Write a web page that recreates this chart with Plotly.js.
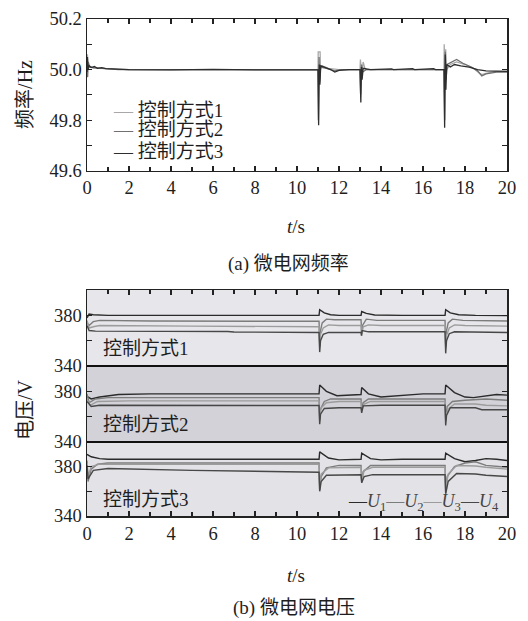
<!DOCTYPE html>
<html>
<head>
<meta charset="utf-8">
<script src="https://cdn.plot.ly/plotly-3.0.1.min.js"></script>
<style>html,body{margin:0;padding:0;background:#fff;}#chart{width:528px;height:621px;}</style>
</head>
<body>
<div id="chart"></div>
<script>
// ---------- Data ----------
const modeNames = ['控制方式1', '控制方式2', '控制方式3'];
const uNames = ['U1', 'U2', 'U3', 'U4'];
const xTickVals = [0, 2, 4, 6, 8, 10, 12, 14, 16, 18, 20];
const vTickVals = [340, 380];
const vMinorVals = [360, 400];

// Frequency (Hz) vs t (s), [t, f] pairs
const freq1 = [[0,50.0],[0.02,50.06],[0.06,50.01],[0.15,50.012],[0.3,50.006],[0.6,50.005],[1,50.003],[2,50.0],[5,50.0],[8,50.0],[10,50.0],[11.0,50.0],[11.01,50.07],[11.1,50.07],[11.12,50.0],[11.2,50.015],[11.5,50.005],[12,50.0],[13.0,50.0],[13.02,50.04],[13.08,49.98],[13.15,50.03],[13.25,50.0],[14,50.0],[17.0,50.0],[17.01,50.1],[17.04,50.0],[17.08,50.08],[17.12,50.0],[17.3,50.02],[17.6,50.03],[18.0,50.02],[18.4,50.005],[18.7,49.985],[18.8,49.98],[19.0,49.985],[19.4,49.992],[20,49.993]];
const freq2 = [[0,50.0],[0.03,49.97],[0.06,50.03],[0.12,50.01],[0.3,50.008],[0.8,50.004],[1.5,50.0],[10,50.0],[11.0,50.0],[11.02,49.8],[11.05,50.05],[11.08,49.95],[11.12,50.01],[11.4,50.005],[11.8,49.995],[12.1,50.0],[13.0,50.0],[13.03,49.9],[13.07,50.02],[13.12,49.99],[13.3,50.0],[17.0,50.0],[17.03,49.8],[17.06,50.07],[17.1,49.96],[17.15,50.02],[17.4,50.03],[17.6,50.04],[17.9,50.025],[18.3,50.01],[18.6,49.995],[18.8,49.975],[19.0,49.983],[19.5,49.99],[20,49.99]];
const freq3 = [[0,49.99],[0.02,50.05],[0.05,50.0],[0.1,50.015],[0.2,50.008],[0.35,50.012],[0.5,50.005],[0.7,50.008],[0.9,50.004],[1.2,50.003],[2,50.0],[4,49.999],[6,50.001],[8,49.999],[10,50.0],[11.0,50.0],[11.03,49.78],[11.06,50.02],[11.09,49.94],[11.13,50.015],[11.3,50.01],[11.6,50.0],[11.8,49.99],[12.0,49.997],[12.5,50.0],[13.0,50.0],[13.04,49.87],[13.07,50.01],[13.1,49.96],[13.15,50.005],[13.5,50.0],[14.5,50.003],[14.6,50.0],[15.5,50.004],[15.6,50.0],[16.5,50.004],[16.6,50.0],[17.0,50.0],[17.03,49.77],[17.06,50.06],[17.09,49.92],[17.13,50.02],[17.3,50.01],[17.5,50.02],[17.8,50.015],[18.2,50.01],[18.6,50.0],[19.0,49.995],[19.5,49.994],[20,49.993]];

// Voltage (V) vs t (s), control mode 1
const m1U1 = [[0,378],[0.1,381],[0.3,380.5],[1,380],[5,380],[10,380],[11.05,380],[11.08,384.5],[11.3,382],[11.6,380.5],[12,380],[13.05,380],[13.08,383],[13.3,381.5],[13.7,380.3],[15,380],[17.05,380],[17.08,384.5],[17.3,382],[17.7,380.5],[18.5,380],[20,379.8]];
const m1U2 = [[0,374],[0.1,372],[0.3,375],[0.6,376],[3,375.5],[10,375.3],[11.05,375.3],[11.08,358],[11.12,368],[11.2,374],[11.4,377],[11.8,376.5],[13.05,376.5],[13.08,366],[13.12,372],[13.3,377],[13.8,376],[17.05,376],[17.08,357],[17.12,368],[17.2,374],[17.4,377],[17.9,376],[20,375.5]];
const m1U3 = [[0,376],[0.1,370],[0.3,371],[0.6,372],[5,371.5],[10,371],[11.05,371],[11.08,355],[11.12,365],[11.25,370],[11.5,372.5],[12,372],[13.05,372],[13.08,364],[13.15,371],[13.4,372.5],[14,372],[17.05,372],[17.08,355],[17.12,364],[17.25,370],[17.5,372.5],[18,372],[20,371.5]];
const m1U4 = [[0,372],[0.1,368],[0.4,367.5],[3,367.5],[6.7,367.3],[7,366.8],[11.05,366.5],[11.08,351],[11.12,360],[11.25,365],[11.5,366.5],[13.05,366.5],[13.07,364],[13.1,368],[13.4,367],[17.05,367],[17.08,350],[17.12,360],[17.25,365.5],[17.5,367],[20,366.5]];
// control mode 2
const m2U1 = [[0,376],[0.2,374],[0.6,375.5],[1.5,377.5],[3,378],[10,378],[11.05,378],[11.08,385],[11.4,380],[11.9,376.5],[12.5,376.8],[13.05,377.5],[13.08,383],[13.4,378],[14,375.5],[15,377],[16,378],[17.05,378],[17.08,385],[17.5,379],[18,375.5],[18.4,375],[19,376.5],[19.5,377.5],[20,377]];
const m2U2 = [[0,378],[0.1,371],[0.4,374],[1,375],[10,375],[11.05,375],[11.08,357],[11.12,366],[11.3,372],[11.6,374],[13.05,374],[13.08,366],[13.15,371],[13.4,374],[17.05,374],[17.08,357],[17.15,368],[17.4,372],[18,373],[19,374],[20,373]];
const m2U3 = [[0,374],[0.15,369],[0.5,372],[2,372.5],[10,372.5],[11.05,372.5],[11.08,360],[11.15,367],[11.4,371],[12,372],[13.05,372],[13.08,365],[13.2,370],[13.5,372],[17.05,372],[17.08,360],[17.2,366],[17.5,370],[18.5,370],[19,369],[20,368.5]];
const m2U4 = [[0,372],[0.2,368],[0.6,369],[4,369],[10,368.8],[11.05,368.8],[11.08,354],[11.12,362],[11.3,366.5],[12,367],[13.05,367],[13.08,363],[13.15,368.5],[14,369],[17.05,369],[17.08,353],[17.12,361],[17.3,367],[18.5,367],[18.8,365.5],[20,365.5]];
// control mode 3
const m3U1 = [[0,390],[0.2,388],[0.6,386.5],[1,386],[10,386],[11.05,386],[11.08,392],[11.5,387],[12,385.5],[13.05,386],[13.08,391],[13.5,386.5],[14,385.5],[15,386],[17.05,386],[17.08,391],[17.5,386.5],[18,384],[18.5,385],[19,386.5],[19.5,386],[20,385]];
const m3U2 = [[0,385],[0.05,368],[0.2,378],[0.5,382],[1,383],[10,383],[11.05,383],[11.08,361],[11.15,372],[11.4,379],[12,381],[13.05,381],[13.08,367],[13.15,376],[13.5,381],[17.05,381],[17.08,359],[17.15,372],[17.5,380],[18,383],[18.5,384],[19,381],[20,379.5]];
const m3U3 = [[0,383],[0.05,372],[0.2,380],[0.6,382],[10,382],[11.05,382],[11.08,364],[11.15,374],[11.5,379],[13.05,379.5],[13.08,369],[13.2,377],[13.6,379.5],[17.05,379.5],[17.08,362],[17.2,374],[17.6,381],[18.5,380.5],[19,379.5],[20,378]];
const m3U4 = [[0,381],[0.05,370],[0.3,377],[1,378.5],[5,377],[10,375.5],[11.05,375.5],[11.08,360],[11.15,368],[11.4,373],[13.05,373.5],[13.08,367],[13.2,372],[13.6,373.5],[17.05,373.5],[17.08,358],[17.2,368],[17.6,374.5],[18.5,374],[19,373],[20,372]];

// ---------- Styling ----------
const serif = 'Liberation Serif, "Noto Sans CJK SC", serif';
const txt = '#1e1e1e';
const freqColors = ['#a8a8a8', '#707070', '#2e2e2e'];
const uColors = ['#2b2b2b', '#7c7c7c', '#9c9c9c', '#474747'];
const panelBg = ['#e7e6eb', '#d3d2d8', '#e3e2e7'];

const traces = [];
[freq1, freq2, freq3].forEach((s, i) => {
  traces.push({x: s.map(p => p[0]), y: s.map(p => p[1]), type: 'scatter', mode: 'lines',
    line: {color: freqColors[i], width: 1.3}, xaxis: 'x', yaxis: 'y', showlegend: false});
});
const panels = [
  {series: [m1U1, m1U2, m1U3, m1U4], xa: 'x3', ya: 'y4'},
  {series: [m2U1, m2U2, m2U3, m2U4], xa: 'x2', ya: 'y3'},
  {series: [m3U1, m3U2, m3U3, m3U4], xa: 'x2', ya: 'y2'}
];
panels.forEach(pn => {
  pn.series.forEach((s, i) => {
    traces.push({x: s.map(p => p[0]), y: s.map(p => p[1]), type: 'scatter', mode: 'lines',
      line: {color: uColors[i], width: 1.4}, xaxis: pn.xa, yaxis: pn.ya, showlegend: false});
  });
});

const tickFont = {family: serif, size: 18.5, color: txt};
const xCommon = {range: [0, 20], tickvals: xTickVals, ticks: 'inside', ticklen: 5, tickwidth: 1.2,
  tickcolor: '#222', minor: {dtick: 1, tick0: 0, ticks: 'inside', ticklen: 4, tickcolor: '#222'},
  showline: true, linecolor: '#222', linewidth: 1.5, showgrid: false, zeroline: false,
  tickfont: tickFont, fixedrange: true};
const yV = (dom, anchor) => ({domain: dom, anchor: anchor, range: [340, 400], tickvals: vTickVals,
  ticks: 'inside', ticklen: 5, tickwidth: 1.2, tickcolor: '#222', mirror: 'ticks',
  minor: {tickvals: vMinorVals, ticks: 'inside', ticklen: 5, tickcolor: '#222'},
  showline: true, linecolor: '#222', linewidth: 1.5, showgrid: false, zeroline: false, tickfont: tickFont});

const d1 = 0.1489, d2 = 0.3018, d3 = 0.4547;
const layout = {
  width: 528, height: 621,
  margin: {l: 87, r: 21, t: 19, b: 105},
  paper_bgcolor: '#ffffff', plot_bgcolor: 'rgba(0,0,0,0)',
  showlegend: false,
  xaxis: Object.assign({}, xCommon, {domain: [0, 1], anchor: 'y', mirror: 'ticks'}),
  yaxis: {domain: [0.6948, 1], anchor: 'x', range: [49.6, 50.2], dtick: 0.2, tick0: 49.6, tickformat: '.1f',
    ticks: 'inside', ticklen: 5, tickwidth: 1.2, tickcolor: '#222', mirror: 'ticks',
    minor: {dtick: 0.1, tick0: 49.6, ticks: 'inside', ticklen: 5, tickcolor: '#222'},
    showline: true, linecolor: '#222', linewidth: 1.5, showgrid: false, zeroline: false, tickfont: tickFont},
  xaxis2: Object.assign({}, xCommon, {domain: [0, 1], anchor: 'y2'}),
  xaxis3: Object.assign({}, xCommon, {domain: [0, 1], anchor: 'y4', side: 'top', showticklabels: false}),
  yaxis2: yV([0, d1], 'x2'),
  yaxis3: yV([d1, d2], 'x2'),
  yaxis4: yV([d2, d3], 'x3'),
  shapes: [
    {type: 'rect', xref: 'paper', yref: 'paper', x0: 0, x1: 1, y0: d2, y1: d3, fillcolor: panelBg[0], line: {width: 0}, layer: 'below'},
    {type: 'rect', xref: 'paper', yref: 'paper', x0: 0, x1: 1, y0: d1, y1: d2, fillcolor: panelBg[1], line: {width: 0}, layer: 'below'},
    {type: 'rect', xref: 'paper', yref: 'paper', x0: 0, x1: 1, y0: 0, y1: d1, fillcolor: panelBg[2], line: {width: 0}, layer: 'below'},
    {type: 'line', xref: 'paper', yref: 'paper', x0: 0, x1: 1, y0: d1, y1: d1, line: {color: '#111', width: 2.2}},
    {type: 'line', xref: 'paper', yref: 'paper', x0: 0, x1: 1, y0: d2, y1: d2, line: {color: '#111', width: 2.2}}
  ],
  annotations: []
};

const ann = layout.annotations;
// legend of frequency plot
const legY = [49.84, 49.762, 49.676];
modeNames.forEach((nm, i) => {
  ann.push({xref: 'x', yref: 'y', x: 1.15, y: legY[i], xanchor: 'left', yanchor: 'middle', showarrow: false,
    text: '<span style="color:' + freqColors[i] + '">—</span> ' + nm, font: {family: serif, size: 19, color: txt}});
});
// panel labels
[['y4', 0], ['y3', 1], ['y2', 2]].forEach(([ya, i]) => {
  ann.push({xref: 'paper', yref: ya, x: 0.033, y: 353.5, xanchor: 'left', yanchor: 'middle', showarrow: false,
    text: modeNames[i], font: {family: serif, size: 19, color: txt}});
});
// U legend
const uLeg = uNames.map((u, i) => '<span style="color:' + uColors[i] + '">—</span><i>' + u[0] + '</i><sub>' + u.slice(1) + '</sub>').join('');
ann.push({xref: 'paper', yref: 'y2', x: 0.985, y: 351, xanchor: 'right', yanchor: 'middle', showarrow: false,
  text: uLeg, font: {family: serif, size: 18, color: '#444'}});
// axis titles
ann.push({xref: 'paper', yref: 'paper', x: -0.148, y: 0.849, textangle: -90, showarrow: false,
  xanchor: 'center', yanchor: 'middle', text: '频率/Hz', font: {family: serif, size: 20, color: txt}});
ann.push({xref: 'paper', yref: 'paper', x: -0.148, y: 0.215, textangle: -90, showarrow: false,
  xanchor: 'center', yanchor: 'middle', text: '电压/V', font: {family: serif, size: 20, color: txt}});
ann.push({xref: 'paper', yref: 'paper', x: 0.498, y: 0.582, showarrow: false, xanchor: 'center', yanchor: 'middle',
  text: '<i>t</i>/s', font: {family: serif, size: 19, color: txt}});
ann.push({xref: 'paper', yref: 'paper', x: 0.498, y: -0.12, showarrow: false, xanchor: 'center', yanchor: 'middle',
  text: '<i>t</i>/s', font: {family: serif, size: 19, color: txt}});
ann.push({xref: 'paper', yref: 'paper', x: 0.48, y: 0.508, showarrow: false, xanchor: 'center', yanchor: 'middle',
  text: '(a) 微电网频率', font: {family: serif, size: 19, color: txt}});
ann.push({xref: 'paper', yref: 'paper', x: 0.493, y: -0.185, showarrow: false, xanchor: 'center', yanchor: 'middle',
  text: '(b) 微电网电压', font: {family: serif, size: 19, color: txt}});

Plotly.newPlot('chart', traces, layout, {displayModeBar: false, staticPlot: true});
</script>
</body>
</html>
